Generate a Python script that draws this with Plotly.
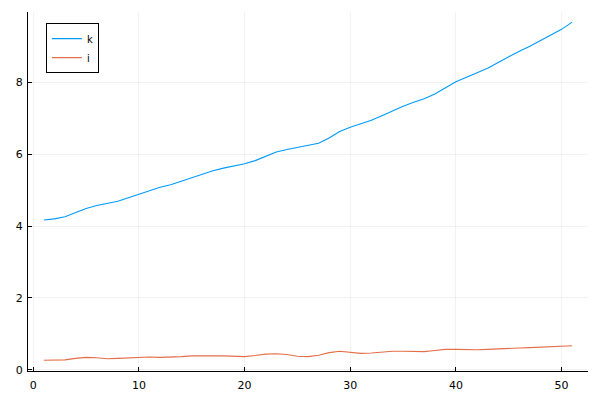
import plotly.graph_objects as go

x = list(range(1, 52))
k = [4.17, 4.20, 4.26, 4.38, 4.49, 4.57, 4.63, 4.69, 4.79, 4.89,
     4.99, 5.08, 5.15, 5.25, 5.35, 5.45, 5.54, 5.61, 5.67, 5.73,
     5.82, 5.94, 6.06, 6.13, 6.18, 6.23, 6.30, 6.45, 6.63, 6.75,
     6.84, 6.94, 7.07, 7.21, 7.33, 7.44, 7.54, 7.67, 7.84, 8.01,
     8.14, 8.27, 8.39, 8.55, 8.71, 8.86, 9.00, 9.15, 9.31, 9.47, 9.67]
i = [0.27, 0.27, 0.28, 0.32, 0.35, 0.34, 0.31, 0.32, 0.34, 0.36,
     0.36, 0.35, 0.35, 0.37, 0.39, 0.40, 0.39, 0.39, 0.38, 0.37,
     0.40, 0.44, 0.45, 0.43, 0.38, 0.37, 0.41, 0.48, 0.52, 0.49,
     0.46, 0.47, 0.50, 0.52, 0.52, 0.52, 0.51, 0.54, 0.57, 0.57,
     0.56, 0.56, 0.57, 0.59, 0.61, 0.61, 0.62, 0.63, 0.64, 0.65, 0.67]
xticks = [0, 10, 20, 30, 40, 50]
yticks = [0, 2, 4, 6, 8]

fig = go.Figure()
fig.add_trace(go.Scatter(x=x, y=k, mode="lines", name="k",
                         line=dict(color="#009AFA", width=1.1)))
fig.add_trace(go.Scatter(x=x, y=i, mode="lines", name="i",
                         line=dict(color="#E36F47", width=1.1)))

xmin, xmax = min(x), max(x)
xs = xmax - xmin
allv = k + i
ymin, ymax = min(allv), max(allv)
ys = ymax - ymin
ymin_r = min(ymin - 0.03 * ys, -0.03)

axis_common = dict(
    showgrid=True, gridcolor="rgba(0,0,0,0.05)", gridwidth=0.8,
    zeroline=False, showline=True, linecolor="black", linewidth=1,
    ticks="inside", ticklen=4, tickcolor="black", tickwidth=1,
    tickfont=dict(family="DejaVu Sans", size=11, color="black"),
    mirror=False, automargin=False,
)

fig.update_layout(
    width=600, height=400,
    margin=dict(l=20, r=20, t=4, b=37),
    paper_bgcolor="white", plot_bgcolor="white",
    showlegend=True,
    legend=dict(x=0.032, y=0.969, xanchor="left", yanchor="top",
                bgcolor="white", bordercolor="black", borderwidth=1,
                font=dict(family="DejaVu Sans", size=10, color="black"),
                tracegroupgap=0, itemwidth=30),
    xaxis=dict(range=[xmin - 0.03 * xs, xmax + 0.03 * xs],
               tickvals=xticks, ticklabelstandoff=4, **axis_common),
    yaxis=dict(range=[ymin_r, ymax + 0.03 * ys],
               tickvals=yticks, ticklabelstandoff=2, **axis_common),
)

fig.write_html("out.html")
